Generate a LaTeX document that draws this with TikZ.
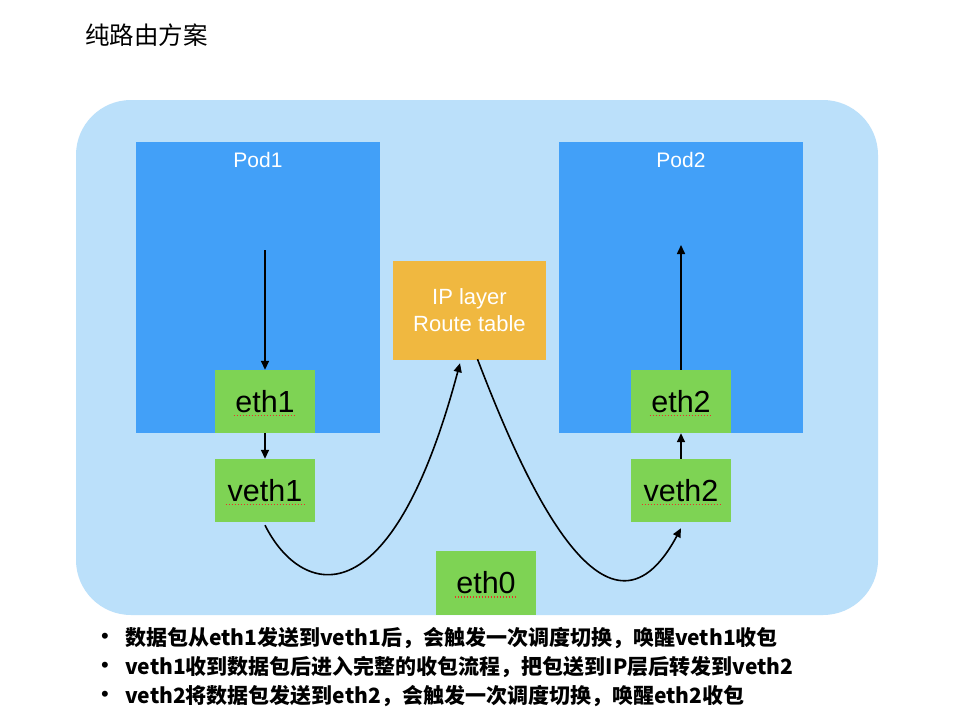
\documentclass[tikz,border=0pt]{standalone}
\usepackage{fontspec}
\setmainfont{Liberation Sans}
\newfontfamily\cjk{Noto Sans CJK SC}
\usetikzlibrary{arrows.meta,positioning}
\definecolor{cHost}{HTML}{BBE0FA}
\definecolor{cPod}{HTML}{42A0F8}
\definecolor{cRoute}{HTML}{F0B840}
\definecolor{cNic}{HTML}{7ED354}
\definecolor{cSpell}{HTML}{E8322C}
\tikzset{
  podbox/.style={fill=cPod,minimum width=244pt,minimum height=291pt,inner sep=0pt},
  podlbl/.style={text=white,font=\fontsize{21}{24}\selectfont,inner sep=0pt},
  nicbox/.style={fill=cNic,minimum width=100pt,minimum height=63pt,inner sep=0pt,font=\fontsize{30.5}{34}\selectfont},
  ipbox/.style={fill=cRoute,minimum width=153pt,minimum height=99pt,inner sep=0pt,align=center,text=white,font=\fontsize{22}{27}\selectfont},
  arr/.style={-{Triangle[length=9pt,width=8pt]},line width=1.6pt},
  spell/.style={cSpell,line width=1.5pt,dash pattern=on 1.5pt off 1.5pt},
  bul/.style={font=\cjk\bfseries\fontsize{21}{24}\selectfont,anchor=west,inner sep=0pt},
}

\begin{document}
\begin{tikzpicture}[x=1pt,y=-1pt]
    \useasboundingbox[fill=white] (0,0) rectangle (958,718);
    \node[anchor=west,inner sep=0pt,font=\cjk\fontsize{24.5}{28}\selectfont] (title) at (85,35) {纯路由方案};
    % host network namespace
    \fill[cHost,rounded corners=55pt] (76,100) rectangle (878,615);
    \node[podbox] (pod1) at (258,287.5) {};
    \node[podbox] (pod2) at (681,287.5) {};
    \node[podlbl] (pod1lbl) at (258,160) {Pod1};
    \node[podlbl] (pod2lbl) at (681,160) {Pod2};
    \node[ipbox] (ip) at (469.5,310.5) {IP layer\\Route table};
    \node[nicbox] (eth1) at (265,401.5) {eth1};
    \node[nicbox] (veth1) at (265,490.5) {veth1};
    \node[nicbox] (eth2) at (681,401.5) {eth2};
    \node[nicbox] (veth2) at (681,490.5) {veth2};
    \node[nicbox,minimum height=64pt] (eth0) at (486,583) {eth0};
    \foreach \n/\w in {eth1/31.5,veth1/39.5,eth2/31.5,veth2/39.5,eth0/31.5}
      \draw[spell] ([xshift=-\w pt,yshift=-3pt]\n.base) -- ([xshift=\w pt,yshift=-3pt]\n.base);
    % packet path
    \coordinate (in1) at (265,250);
    \coordinate (out2) at (681,245);
    \draw[arr] (in1) -- (eth1.north);
    \draw[arr] (eth1) -- (veth1);
    \draw[arr] ([yshift=-3pt]veth1.south) .. controls +(35,70) and +(-70,263) .. ([xshift=-9.5pt,yshift=-3pt]ip.south);
    \draw[arr] ([xshift=8pt,yshift=1pt]ip.south) .. controls +(43,112) and +(-76,142) .. ([yshift=-6pt]veth2.south);
    \draw[arr] (veth2) -- (eth2);
    \draw[arr] (eth2.north) -- (out2);
    % notes
    \foreach \i/\t in {1/{数据包从eth1发送到veth1后，会触发一次调度切换，唤醒veth1收包},
                       2/{veth1收到数据包后进入完整的收包流程，把包送到IP层后转发到veth2},
                       3/{veth2将数据包发送到eth2，会触发一次调度切换，唤醒eth2收包}}{
      \node[inner sep=0pt,font=\fontsize{22}{24}\selectfont] (dot\i) at (105,609+29*\i) {•};
      \node[bul] (note\i) at (125,609+29*\i) {\t};}
  \end{tikzpicture}
\end{document}
